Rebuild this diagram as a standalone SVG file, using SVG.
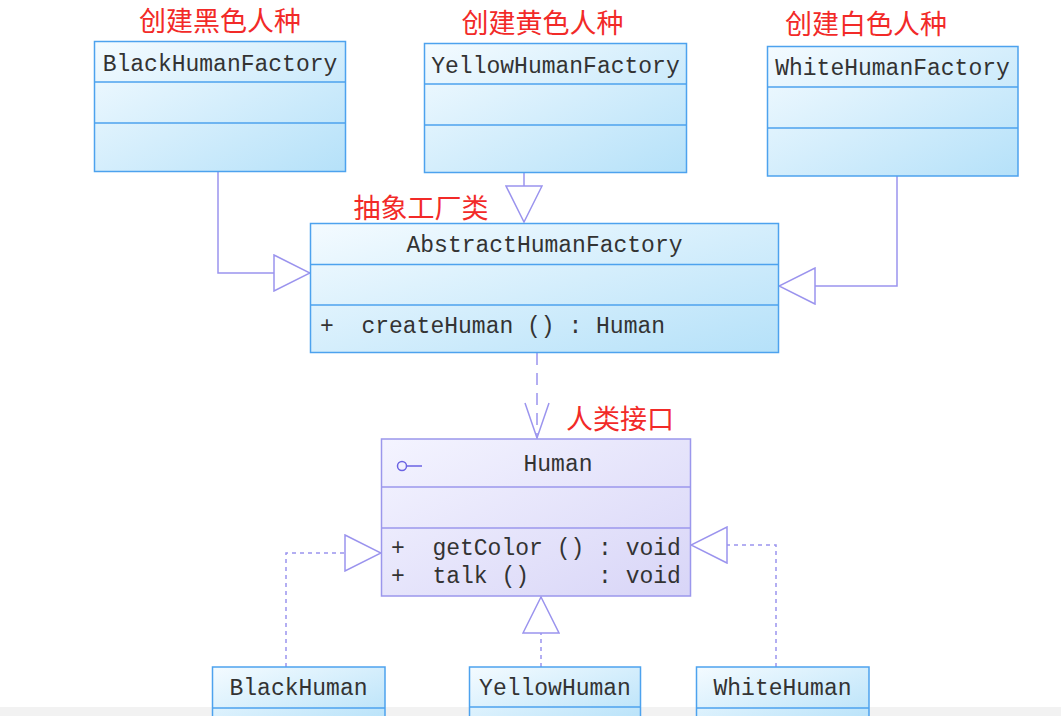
<svg xmlns="http://www.w3.org/2000/svg" width="1061" height="716" viewBox="0 0 1061 716">
<style>
.cls{stroke:#4da2ee;stroke-width:1.5;fill:url(#gb)}
.ifc{stroke:#9b97ec;stroke-width:1.5;fill:url(#gp)}
.sep{stroke:#4da2ee;stroke-width:1.5}
.sepi{stroke:#9b97ec;stroke-width:1.5}
.t{font-family:"Liberation Mono","DejaVu Sans Mono",monospace;font-size:23px;fill:#333}
.c{text-anchor:middle}
.red{font-family:"Noto Sans CJK SC","Noto Sans",sans-serif;font-size:27px;fill:#f22a28;text-anchor:middle}
.ln{fill:none;stroke:#9b94ee;stroke-width:1.5}
.gen{marker-end:url(#tri)}
.dash{stroke-dasharray:4 4}
.dep{stroke-dasharray:12 8;marker-end:url(#open)}
</style>
<defs>
<linearGradient id="gb" x1="0" y1="0" x2="1" y2="1">
<stop offset="0" stop-color="#f4fbff"/>
<stop offset="1" stop-color="#b5e1f9"/>
</linearGradient>
<linearGradient id="gp" x1="0" y1="0" x2="1" y2="1">
<stop offset="0" stop-color="#f4f4ff"/>
<stop offset="1" stop-color="#d8d5f7"/>
</linearGradient>
<marker id="tri" viewBox="-1 -1 38 38" refX="36" refY="18" markerWidth="38" markerHeight="38" markerUnits="userSpaceOnUse" orient="auto">
<path d="M0,0 L36,18 L0,36 Z" fill="#fff" stroke="#9b94ee" stroke-width="1.5" stroke-dasharray="none"/>
</marker>
<marker id="open" viewBox="-1 -1 38 26" refX="35" refY="12" markerWidth="38" markerHeight="26" markerUnits="userSpaceOnUse" orient="auto">
<path d="M0,0 L35,12 L0,24" fill="none" stroke="#9b94ee" stroke-width="1.5" stroke-dasharray="none"/>
</marker>
</defs>
<rect x="0" y="0" width="1061" height="716" fill="#fff"/>
<rect x="0" y="707" width="1061" height="9" fill="#f2f2f2"/>

<g id="connectors">
<path class="ln gen" d="M218,172 V273 H310"/>
<path class="ln gen" d="M524,172 V222"/>
<path class="ln gen" d="M897,176 V286 H779"/>
<path class="ln dep" d="M537,353 V438"/>
<path class="ln dash gen" d="M286,667 V553 H381"/>
<path class="ln dash gen" d="M541,667 V597"/>
<path class="ln dash gen" d="M776,667 V545 H691"/>
</g>

<g id="BlackHumanFactory">
<text class="red" x="220" y="31">创建黑色人种</text>
<rect class="cls" x="94.5" y="41.5" width="251" height="130"/>
<line class="sep" x1="94.5" y1="82" x2="345.5" y2="82"/>
<line class="sep" x1="94.5" y1="123" x2="345.5" y2="123"/>
<text class="t c" x="220" y="71">BlackHumanFactory</text>
</g>

<g id="YellowHumanFactory">
<text class="red" x="542.5" y="33">创建黄色人种</text>
<rect class="cls" x="424.5" y="43.5" width="262" height="129"/>
<line class="sep" x1="424.5" y1="84" x2="686.5" y2="84"/>
<line class="sep" x1="424.5" y1="125" x2="686.5" y2="125"/>
<text class="t c" x="555.5" y="73">YellowHumanFactory</text>
</g>

<g id="WhiteHumanFactory">
<text class="red" x="866" y="34">创建白色人种</text>
<rect class="cls" x="767.5" y="46.5" width="250.5" height="129.5"/>
<line class="sep" x1="767.5" y1="87" x2="1018" y2="87"/>
<line class="sep" x1="767.5" y1="128" x2="1018" y2="128"/>
<text class="t c" x="892.5" y="75">WhiteHumanFactory</text>
</g>

<g id="AbstractHumanFactory">
<text class="red" x="421" y="218">抽象工厂类</text>
<rect class="cls" x="310.5" y="223.5" width="468" height="129"/>
<line class="sep" x1="310.5" y1="264.5" x2="778.5" y2="264.5"/>
<line class="sep" x1="310.5" y1="305" x2="778.5" y2="305"/>
<text class="t c" x="544.5" y="252">AbstractHumanFactory</text>
<text class="t" x="320" y="333" xml:space="preserve">+  createHuman () : Human</text>
</g>

<g id="Human">
<text class="red" x="620" y="429">人类接口</text>
<rect class="ifc" x="381.5" y="439" width="309" height="157"/>
<line class="sepi" x1="381.5" y1="487" x2="690.5" y2="487"/>
<line class="sepi" x1="381.5" y1="528" x2="690.5" y2="528"/>
<circle cx="402" cy="466" r="4.5" fill="none" stroke="#6b63e3" stroke-width="1.5"/>
<line x1="406.5" y1="466" x2="422" y2="466" stroke="#6b63e3" stroke-width="1.5"/>
<text class="t c" x="558" y="471">Human</text>
<text class="t" x="391" y="555" xml:space="preserve">+  getColor () : void</text>
<text class="t" x="391" y="583" xml:space="preserve">+  talk ()     : void</text>
</g>

<g id="BlackHuman">
<rect class="cls" x="212.5" y="667" width="172.5" height="60"/>
<line class="sep" x1="212.5" y1="708" x2="385" y2="708"/>
<text class="t c" x="298.5" y="695">BlackHuman</text>
</g>

<g id="YellowHuman">
<rect class="cls" x="469.5" y="667" width="171" height="60"/>
<line class="sep" x1="469.5" y1="707" x2="640.5" y2="707"/>
<text class="t c" x="555" y="695">YellowHuman</text>
</g>

<g id="WhiteHuman">
<rect class="cls" x="696.5" y="667" width="172.5" height="60"/>
<line class="sep" x1="696.5" y1="708" x2="869" y2="708"/>
<text class="t c" x="782.5" y="695">WhiteHuman</text>
</g>
</svg>
